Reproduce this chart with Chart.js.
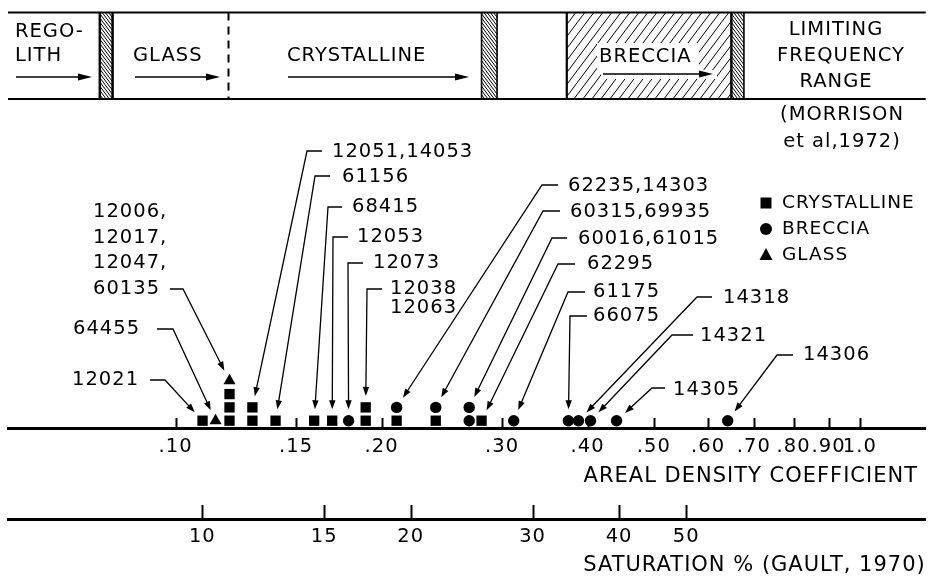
<!DOCTYPE html>
<html>
<head>
<meta charset="utf-8">
<script src="https://cdn.jsdelivr.net/npm/chart.js@4.4.1/dist/chart.umd.min.js"></script>
<style>
  html, body { margin: 0; padding: 0; background: #fff; }
</style>
</head>
<body>
<canvas id="chart" width="933" height="580"></canvas>
<script>
// areal density coefficient of each sample and its place in the stack above the axis
const crystallineX = [0.1095, 0.1199, 0.1199, 0.1199, 0.1295, 0.1295, 0.140, 0.1594, 0.1694, 0.1896, 0.1896, 0.2104, 0.240, 0.280];
const crystallineLevel = [0, 0, 1, 2, 0, 1, 0, 0, 0, 0, 1, 0, 0, 0];
const brecciaX = [0.179, 0.2104, 0.240, 0.2686, 0.2686, 0.312, 0.375, 0.388, 0.404, 0.441, 0.641];
const brecciaLevel = [0, 1, 1, 0, 1, 0, 0, 0, 0, 0, 0];
const glassX = [0.1144, 0.1199];
const glassLevel = [0, 3];

const densityTicks = [0.10, 0.15, 0.20, 0.30, 0.40, 0.50, 0.60, 0.70, 0.80, 0.90, 1.0];
const densityTickLabels = ['.10', '.15', '.20', '.30', '.40', '.50', '.60', '.70', '.80', '.90', '1.0'];
const saturationTicks = [10, 15, 20, 30, 40, 50];
const saturationTickLabels = ['10', '15', '20', '30', '40', '50'];

// limiting frequency ranges (areal density)
const hatchRanges = [[0.0775, 0.0809], [0.280, 0.295], [0.649, 0.677]];
const glassCrystallineEdge = 0.1195;
const brecciaRange = [0.373, 0.649];

const FONT = 'DejaVu Sans';

// sample labels: [dataset, point] they point at
const notes = [
  { text: ['12021'], x: 72, y: 380, from: [150, 380], corner: [165, 380], at: [0, 0] },
  { text: ['64455'], x: 73, y: 329, from: [157, 329], corner: [173, 329], at: [2, 0] },
  { text: ['12006,', '12017,', '12047,', '60135'], x: 93, y: 212, gap: 25.7, from: [170, 289], corner: [183, 289], at: [2, 1] },
  { text: ['12051,14053'], x: 332, y: 152, from: [322, 151], corner: [307, 151], at: [0, 5] },
  { text: ['61156'], x: 342, y: 177, from: [330, 176], corner: [315, 176], at: [0, 6] },
  { text: ['68415'], x: 352, y: 207, from: [342, 207], corner: [328, 207], at: [0, 7] },
  { text: ['12053'], x: 357, y: 237, from: [348, 237], corner: [333, 237], at: [0, 8] },
  { text: ['12073'], x: 373, y: 263, from: [363, 263], corner: [348, 263], at: [1, 0] },
  { text: ['12038', '12063'], x: 390, y: 289, gap: 19, from: [382, 289], corner: [367, 289], at: [0, 10] },
  { text: ['62235,14303'], x: 568, y: 186, from: [558, 185], corner: [542, 185], at: [1, 1] },
  { text: ['60315,69935'], x: 570, y: 212, from: [560, 211], corner: [543, 211], at: [1, 2] },
  { text: ['60016,61015'], x: 578, y: 239, from: [567, 238], corner: [552, 238], at: [1, 4] },
  { text: ['62295'], x: 587, y: 264, from: [575, 264], corner: [558, 264], at: [0, 13] },
  { text: ['61175'], x: 593, y: 292, from: [585, 292], corner: [568, 292], at: [1, 5] },
  { text: ['66075'], x: 593, y: 316, from: [587, 316], corner: [570, 316], at: [1, 6] },
  { text: ['14318'], x: 723, y: 298, from: [712, 297], corner: [697, 297], at: [1, 7] },
  { text: ['14321'], x: 700, y: 336, from: [693, 335], corner: [672, 335], at: [1, 8] },
  { text: ['14305'], x: 673, y: 390, from: [665, 388], corner: [652, 388], at: [1, 9] },
  { text: ['14306'], x: 803, y: 355, from: [793, 355], corner: [777, 355], at: [1, 10] },
];

function toPoints(xs, levels) {
  return xs.map((x, i) => ({ x: x, y: levels[i] }));
}

function arrowHead(ctx, x, y, ang, len, half) {
  ctx.beginPath();
  ctx.moveTo(x, y);
  ctx.lineTo(x - Math.cos(ang) * len - Math.sin(ang) * half, y - Math.sin(ang) * len + Math.cos(ang) * half);
  ctx.lineTo(x - Math.cos(ang) * len + Math.sin(ang) * half, y - Math.sin(ang) * len - Math.cos(ang) * half);
  ctx.closePath();
  ctx.fill();
}

function hArrow(ctx, x1, x2, y) {
  ctx.beginPath();
  ctx.moveTo(x1, y);
  ctx.lineTo(x2 - 8, y);
  ctx.lineWidth = 1.6;
  ctx.stroke();
  arrowHead(ctx, x2, y, 0, 14, 3.5);
}

function hatch(ctx, x1, x2, y1, y2, step, up) {
  ctx.save();
  ctx.beginPath();
  ctx.rect(x1, y1, x2 - x1, y2 - y1);
  ctx.clip();
  ctx.beginPath();
  const h = y2 - y1;
  const run = h * 0.75;
  for (let x = x1 - run; x <= x2 + run; x += step) {
    if (up) { ctx.moveTo(x, y2); ctx.lineTo(x + run, y1); }
    else { ctx.moveTo(x, y1); ctx.lineTo(x + run, y2); }
  }
  ctx.lineWidth = 1;
  ctx.stroke();
  ctx.restore();
}

function text(ctx, s, x, y, align, size) {
  ctx.font = size + 'px "' + FONT + '"';
  ctx.textAlign = align;
  ctx.textBaseline = 'middle';
  ctx.fillText(s, x, y);
}

const spacing = {
  id: 'spacing',
  beforeUpdate(chart) { chart.ctx.letterSpacing = '1px'; },
  beforeDraw(chart) { chart.ctx.letterSpacing = '1px'; }
};

const decorations = {
  id: 'decorations',
  afterDatasetsDraw(chart) {
    const ctx = chart.ctx;
    const xs = chart.scales.x;
    const area = chart.chartArea;
    const top = 12.5, bot = 99;
    ctx.save();
    ctx.fillStyle = '#000';
    ctx.strokeStyle = '#000';

    // band of limiting frequency ranges
    ctx.lineWidth = 2;
    ctx.beginPath();
    ctx.moveTo(area.left, top); ctx.lineTo(area.right, top);
    ctx.moveTo(area.left, bot); ctx.lineTo(area.right, bot);
    ctx.stroke();

    hatchRanges.forEach((r, i) => {
      const a = xs.getPixelForValue(r[0]), b = xs.getPixelForValue(r[1]);
      hatch(ctx, a, b, top, bot, 3.2, false);
      ctx.lineWidth = i === 0 ? 2.5 : 1.6;
      ctx.beginPath();
      ctx.moveTo(a, top); ctx.lineTo(a, bot);
      ctx.moveTo(b, top); ctx.lineTo(b, bot);
      ctx.stroke();
    });
    const b1 = xs.getPixelForValue(brecciaRange[0]), b2 = xs.getPixelForValue(brecciaRange[1]);
    hatch(ctx, b1, b2, top, bot, 9, true);
    ctx.fillStyle = '#fff';
    ctx.fillRect(597, 43, 102, 30);
    ctx.fillRect(601, 70, 116, 9);
    ctx.fillStyle = '#000';
    ctx.lineWidth = 2.2;
    ctx.beginPath();
    ctx.moveTo(b1, top); ctx.lineTo(b1, bot);
    ctx.moveTo(b2, top); ctx.lineTo(b2, bot);
    ctx.stroke();

    const g = xs.getPixelForValue(glassCrystallineEdge);
    ctx.setLineDash([8, 6]);
    ctx.lineWidth = 2;
    ctx.beginPath();
    ctx.moveTo(g, top); ctx.lineTo(g, bot);
    ctx.stroke();
    ctx.setLineDash([]);

    text(ctx, 'REGO-', 15, 32, 'left', 19.5);
    text(ctx, 'LITH', 15, 56, 'left', 19.5);
    hArrow(ctx, 16, 92, 77);
    text(ctx, 'GLASS', 133, 56, 'left', 19.5);
    hArrow(ctx, 135, 220, 77);
    text(ctx, 'CRYSTALLINE', 287, 56, 'left', 19.5);
    hArrow(ctx, 288, 469, 77);
    text(ctx, 'BRECCIA', 599, 57, 'left', 19.5);
    hArrow(ctx, 603, 713, 74);
    text(ctx, 'LIMITING', 836, 30, 'center', 19.5);
    text(ctx, 'FREQUENCY', 841, 56, 'center', 19.5);
    text(ctx, 'RANGE', 836, 82, 'center', 19.5);
    text(ctx, '(MORRISON', 842, 115, 'center', 19.5);
    text(ctx, 'et al,1972)', 842, 142, 'center', 19.5);

    // sample labels with leader arrows
    notes.forEach(n => {
      const gap = n.gap || 25;
      n.text.forEach((s, i) => text(ctx, s, n.x, n.y + i * gap, 'left', 19.5));
      const p = chart.getDatasetMeta(n.at[0]).data[n.at[1]];
      const dx = n.corner[0] - p.x, dy = n.corner[1] - p.y;
      const d = Math.hypot(dx, dy);
      const tx = p.x + dx / d * 11.5, ty = p.y + dy / d * 11.5;
      const ang = Math.atan2(ty - n.corner[1], tx - n.corner[0]);
      ctx.lineWidth = 1.3;
      ctx.beginPath();
      ctx.moveTo(n.from[0], n.from[1]);
      ctx.lineTo(n.corner[0], n.corner[1]);
      ctx.lineTo(tx - Math.cos(ang) * 6, ty - Math.sin(ang) * 6);
      ctx.stroke();
      arrowHead(ctx, tx, ty, ang, 9, 3.2);
    });

    // legend
    const lx = 766;
    ctx.fillRect(lx - 5.5, 203 - 5.5, 11, 11);
    ctx.beginPath(); ctx.arc(lx, 229, 6, 0, Math.PI * 2); ctx.fill();
    ctx.beginPath(); ctx.moveTo(lx, 248); ctx.lineTo(lx + 6.5, 260); ctx.lineTo(lx - 6.5, 260); ctx.closePath(); ctx.fill();
    text(ctx, 'CRYSTALLINE', 782, 203, 'left', 18.5);
    text(ctx, 'BRECCIA', 782, 229, 'left', 18.5);
    text(ctx, 'GLASS', 782, 255, 'left', 18.5);
    ctx.restore();
  },
  afterDraw(chart) {
    // tick marks standing up from both axis lines
    const ctx = chart.ctx;
    ctx.save();
    ctx.strokeStyle = '#000';
    ctx.lineWidth = 2;
    [['x', densityTicks, 10], ['sat', saturationTicks, 14]].forEach(([id, ticks, len]) => {
      const s = chart.scales[id];
      ctx.beginPath();
      ticks.forEach(v => {
        const px = Math.round(s.getPixelForValue(v)) + 0.5;
        ctx.moveTo(px, s.top);
        ctx.lineTo(px, s.top - len);
      });
      ctx.stroke();
    });
    ctx.restore();
  }
};

const axisFont = { family: FONT, size: 19.5 };
const titleFont = { family: FONT, size: 21, lineHeight: 1 };

const chartConfig = {
  type: 'scatter',
  data: {
    datasets: [
      { label: 'CRYSTALLINE', data: toPoints(crystallineX, crystallineLevel), pointStyle: 'rect', pointRadius: 7.3, backgroundColor: '#000', borderWidth: 0 },
      { label: 'BRECCIA', data: toPoints(brecciaX, brecciaLevel), pointStyle: 'circle', pointRadius: 5.7, backgroundColor: '#000', borderWidth: 0 },
      { label: 'GLASS', data: toPoints(glassX, glassLevel), pointStyle: 'triangle', pointRadius: 7, backgroundColor: '#000', borderWidth: 0 }
    ]
  },
  options: {
    responsive: false,
    animation: false,
    events: [],
    clip: false,
    layout: { padding: { left: 8, right: 5, top: 12, bottom: 0 } },
    plugins: { legend: { display: false }, tooltip: { enabled: false } },
    scales: {
      x: {
        type: 'logarithmic',
        position: 'bottom',
        weight: 0,
        min: 0.0569,
        max: 1.248,
        bounds: 'data',
        grid: { display: false, drawTicks: false },
        border: { display: true, width: 3, color: '#000' },
        afterBuildTicks: s => { s.ticks = densityTicks.map(v => ({ value: v })); },
        ticks: {
          autoSkip: false, maxRotation: 0, minRotation: 0, padding: 7.3, color: '#000', font: axisFont,
          callback: (v, i) => densityTickLabels[i]
        },
        title: { display: true, text: 'AREAL DENSITY COEFFICIENT ', align: 'end', color: '#000', font: titleFont, padding: { top: 0.5, bottom: 31.5 } }
      },
      sat: {
        type: 'logarithmic',
        axis: 'x',
        position: 'bottom',
        weight: 1,
        min: 5.24,
        max: 110.9,
        bounds: 'data',
        grid: { display: false, drawTicks: false },
        border: { display: true, width: 3, color: '#000' },
        afterBuildTicks: s => { s.ticks = saturationTicks.map(v => ({ value: v })); },
        ticks: {
          autoSkip: false, maxRotation: 0, minRotation: 0, padding: 6.3, color: '#000', font: axisFont,
          callback: (v, i) => saturationTickLabels[i]
        },
        title: { display: true, text: 'SATURATION % (GAULT, 1970)', align: 'end', color: '#000', font: titleFont, padding: { top: 0.5, bottom: 3.5 } }
      },
      y: { type: 'linear', display: false, min: -0.55, max: 30.73 }
    }
  },
  plugins: [spacing, decorations]
};

const ctx = document.getElementById('chart').getContext('2d');
const chart = new Chart(ctx, chartConfig);
</script>
</body>
</html>
